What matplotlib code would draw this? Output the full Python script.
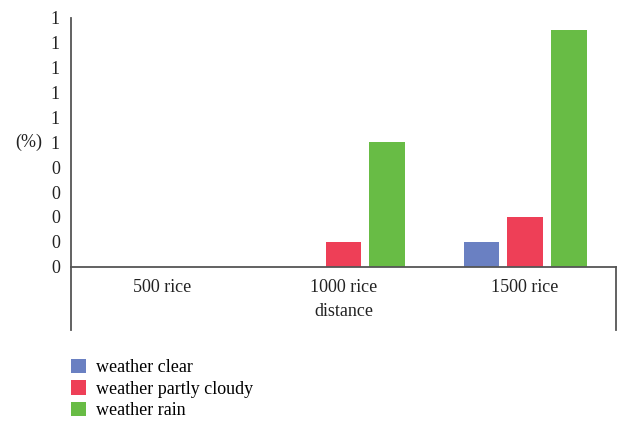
import numpy as np
from matplotlib import pyplot as plt

# rain share by distance and weather
categories = ['500 rice', '1000 rice', '1500 rice']
series_names = ['weather clear', 'weather partly cloudy', 'weather rain']
clear = [0.0, 0.0, 0.1]
partly_cloudy = [0.0, 0.1, 0.2]
rain = [0.0, 0.5, 0.95]
y_ticks = [0.0, 0.1, 0.2, 0.3, 0.4, 0.5, 0.6, 0.7, 0.8, 0.9, 1.0]
y_tick_labels = ['0', '0', '0', '0', '0', '1', '1', '1', '1', '1', '1']

colors = ['#6A80C2', '#EE3F57', '#68BC45']
axis_color = '#555555'

plt.rcParams['font.family'] = ['Liberation Serif', 'DejaVu Serif']
plt.rcParams['font.size'] = 13

figure = plt.figure(figsize=(6.21, 4.23), dpi=100)
ax = figure.add_axes([71 / 621, 1 - 266.7 / 423, 545 / 621, 248.7 / 423])

x = np.arange(len(categories))
width = 0.197
step = 0.24
for index, values in enumerate([clear, partly_cloudy, rain]):
    ax.bar(x + (index - 1) * step, values, width=width,
           color=colors[index], label=series_names[index])

ax.set_xlim(-0.5, len(categories) - 0.5)
ax.set_ylim(0, 1.0)
ax.set_yticks(y_ticks)
ax.set_yticklabels(y_tick_labels)
ax.set_xticks(x)
ax.set_xticklabels(categories)
ax.tick_params(axis='both', length=0, colors='#222222')
ax.tick_params(axis='y', pad=8)
ax.tick_params(axis='x', pad=9)

for side in ['top', 'right']:
    ax.spines[side].set_visible(False)
for side in ['left', 'bottom']:
    ax.spines[side].set_color(axis_color)
    ax.spines[side].set_linewidth(1.3)

# box lines hanging below the category axis
drop = -63 / 248.7
ax.plot([0, 0], [0, drop], transform=ax.transAxes, clip_on=False,
        color=axis_color, linewidth=1.3)
ax.plot([1, 1], [0, drop], transform=ax.transAxes, clip_on=False,
        color=axis_color, linewidth=1.3)

ax.set_xlabel('distance', labelpad=5, color='#222222')
ax.set_ylabel('(%)', rotation=0, color='#222222', ha='center', va='center')
ax.yaxis.set_label_coords(-0.077, 0.5)

ax.legend(loc='upper left', bbox_to_anchor=(71 / 621, 1 - 359 / 423),
          bbox_transform=figure.transFigure, frameon=False,
          handlelength=0.85, handleheight=0.85, handletextpad=0.55,
          labelspacing=0.22, borderaxespad=0, borderpad=0)

figure.savefig('out.png', dpi=100)
